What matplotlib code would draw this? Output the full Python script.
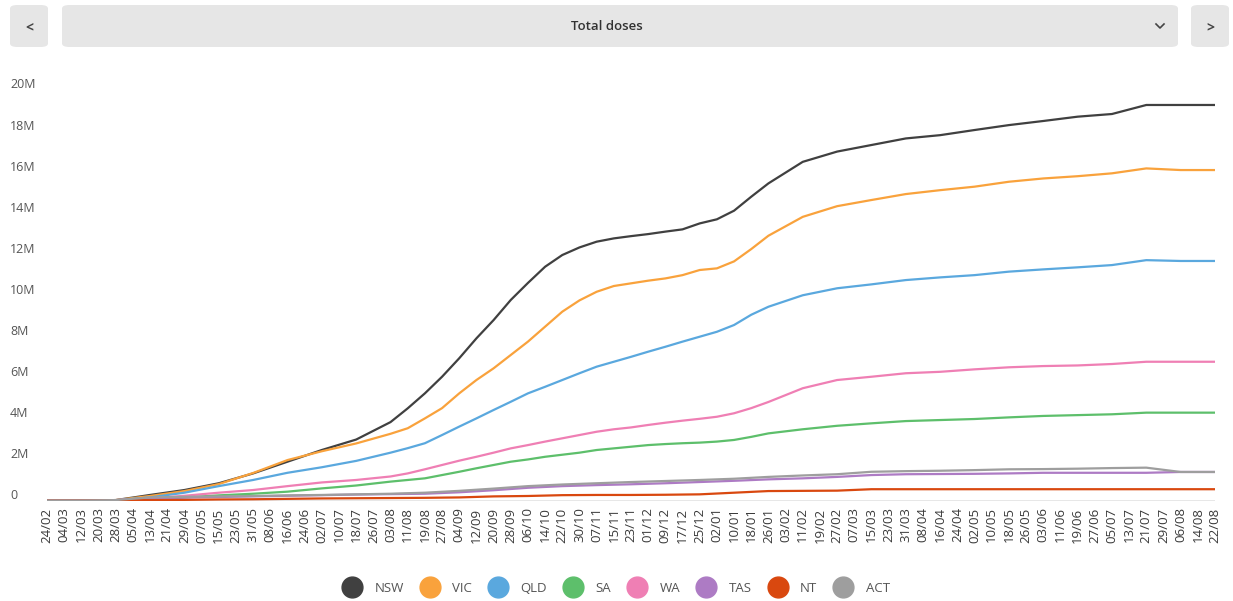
import matplotlib
matplotlib.use("Agg")
import matplotlib.pyplot as plt
from matplotlib.lines import Line2D
from matplotlib.patches import FancyBboxPatch
from matplotlib.transforms import ScaledTranslation
import pandas as pd

plt.rcParams['font.family'] = ['Open Sans', 'DejaVu Sans']

W, H = 1233, 601

tick_dates = pd.date_range("2021-02-24", "2022-08-22", freq="8D")
tick_labels = ["24/02", "04/03", "12/03", "20/03", "28/03", "05/04", "13/04", "21/04", "29/04",
               "07/05", "15/05", "23/05", "31/05", "08/06", "16/06", "24/06", "02/07", "10/07",
               "18/07", "26/07", "03/08", "11/08", "19/08", "27/08", "04/09", "12/09", "20/09",
               "28/09", "06/10", "14/10", "22/10", "30/10", "07/11", "15/11", "23/11", "01/12",
               "09/12", "17/12", "25/12", "02/01", "10/01", "18/01", "26/01", "03/02", "11/02",
               "19/02", "27/02", "07/03", "15/03", "23/03", "31/03", "08/04", "16/04", "24/04",
               "02/05", "10/05", "18/05", "26/05", "03/06", "11/06", "19/06", "27/06", "05/07",
               "13/07", "21/07", "29/07", "06/08", "14/08", "22/08"]
y_ticks = [0, 2, 4, 6, 8, 10, 12, 14, 16, 18, 20]
y_labels = ["0", "2M", "4M", "6M", "8M", "10M", "12M", "14M", "16M", "18M", "20M"]

# read points: every 16 days, denser (8 days) through the steep part Aug 2021 - Jan 2022
fine_idx = list(range(0, 20, 2)) + list(range(20, 43)) + list(range(44, 69, 2))
coarse_idx = list(range(0, 69, 2))
dates_fine = tick_dates[fine_idx]
dates_coarse = tick_dates[coarse_idx]

# millions of doses
nsw = [0, 0, 0.02, 0.27, 0.51, 0.84, 1.32, 1.89, 2.46, 2.97,
       3.82, 4.49, 5.22, 6.03, 6.93, 7.9, 8.79, 9.77, 10.6, 11.39, 11.96, 12.33, 12.61, 12.77,
       12.88, 12.98, 13.1, 13.21, 13.5, 13.7, 14.12, 14.8, 15.45,
       16.5, 17.0, 17.32, 17.64, 17.8, 18.05, 18.29, 18.49, 18.7, 18.83, 19.27, 19.27, 19.27]
vic = [0, 0, 0.02, 0.22, 0.46, 0.8, 1.34, 1.97, 2.4, 2.78,
       3.25, 3.52, 4.0, 4.5, 5.22, 5.87, 6.44, 7.09, 7.74, 8.47, 9.2, 9.75, 10.17, 10.45,
       10.58, 10.71, 10.82, 10.98, 11.23, 11.31, 11.65, 12.25, 12.9,
       13.82, 14.34, 14.64, 14.93, 15.12, 15.29, 15.53, 15.69, 15.8, 15.94, 16.18, 16.1, 16.1]
qld = [0, 0, 0.01, 0.15, 0.38, 0.7, 1.0, 1.35, 1.62, 1.93,
       2.33, 2.55, 2.79, 3.19, 3.6, 4.0, 4.41, 4.81, 5.22, 5.54, 5.87, 6.2, 6.52, 6.76,
       7.0, 7.25, 7.49, 7.74, 7.98, 8.22, 8.55, 9.05, 9.44,
       10.0, 10.34, 10.53, 10.74, 10.87, 10.98, 11.15, 11.26, 11.36, 11.47, 11.71, 11.67, 11.67]
sa = [0, 0, 0.01, 0.05, 0.15, 0.25, 0.33, 0.43, 0.59, 0.73,
      0.92, 1.0, 1.08, 1.24, 1.4, 1.57, 1.73, 1.89, 2.0, 2.13, 2.23, 2.33, 2.46, 2.54,
      2.62, 2.7, 2.75, 2.79, 2.82, 2.87, 2.95, 3.1, 3.27,
      3.47, 3.64, 3.76, 3.87, 3.92, 3.97, 4.05, 4.12, 4.16, 4.2, 4.28, 4.28, 4.28]
wa = [0, 0, 0.01, 0.1, 0.23, 0.38, 0.51, 0.7, 0.88, 1.0,
      1.17, 1.32, 1.52, 1.73, 1.94, 2.13, 2.33, 2.54, 2.7, 2.87, 3.03, 3.19, 3.35, 3.47,
      3.56, 3.68, 3.79, 3.89, 3.98, 4.08, 4.25, 4.5, 4.8,
      5.47, 5.87, 6.03, 6.2, 6.27, 6.39, 6.49, 6.55, 6.58, 6.65, 6.76, 6.76, 6.76]
tas = [0, 0, 0.02, 0.1, 0.14, 0.17, 0.2, 0.23, 0.26, 0.29, 0.31, 0.33, 0.4, 0.5, 0.62, 0.7, 0.75,
       0.79, 0.84, 0.9, 0.96, 1.03, 1.08, 1.15, 1.24, 1.28, 1.29, 1.3, 1.32, 1.35, 1.35, 1.35, 1.35,
       1.39, 1.39]
nt = [0, 0, 0.01, 0.02, 0.03, 0.05, 0.06, 0.08, 0.1, 0.11, 0.12, 0.13, 0.15, 0.2, 0.22, 0.26, 0.27,
      0.27, 0.28, 0.3, 0.38, 0.46, 0.47, 0.48, 0.55, 0.55, 0.55, 0.55, 0.55, 0.55, 0.55, 0.55, 0.55,
      0.55, 0.55]
act = [0, 0, 0.02, 0.15, 0.18, 0.2, 0.22, 0.25, 0.27, 0.3, 0.33, 0.38, 0.47, 0.58, 0.7, 0.78, 0.84,
       0.9, 0.95, 1.0, 1.06, 1.15, 1.22, 1.28, 1.4, 1.43, 1.45, 1.48, 1.52, 1.53, 1.55, 1.58, 1.6,
       1.39, 1.39]

states = ["NSW", "VIC", "QLD", "SA", "WA", "TAS", "NT", "ACT"]
series = [nsw, vic, qld, sa, wa, tas, nt, act]
colors = ["#404040", "#f9a23c", "#5aa8de", "#5dbf6b", "#ef7fb4", "#ad7bc4", "#d9480f", "#9e9e9e"]

fig = plt.figure(figsize=(W / 100, H / 100), dpi=100)
ax = fig.add_axes([47 / W, (H - 500.5) / H, 1168 / W, 410.5 / H])

ax.axhline(0, color="#e3e3e3", lw=1.2, zorder=0)
for name, vals, c in zip(states, series, colors):
    d = dates_fine if len(vals) == len(dates_fine) else dates_coarse
    ax.plot(d, vals, color=c, lw=1.6, label=name, solid_joinstyle="round")

ax.set_xlim(tick_dates[0], tick_dates[-1])
ax.set_ylim(0, 20)
for s in ax.spines.values():
    s.set_visible(False)

ax.set_xticks(tick_dates)
ax.set_xticklabels(tick_labels, rotation=90, fontsize=9.5, color="#3a3a3a")
ax.set_yticks(y_ticks)
ax.set_yticklabels(y_labels, fontsize=9, color="#555555", ha="left")
ax.tick_params(axis="x", length=0, pad=5)
ax.tick_params(axis="y", length=0, pad=26.6)
for lab in ax.get_yticklabels():
    lab.set_transform(lab.get_transform() + ScaledTranslation(0, 6.5 / 100, fig.dpi_scale_trans))

# legend
handles = [Line2D([], [], marker="o", linestyle="none", markersize=15, color=c) for c in colors]
fig.legend(handles, states, loc="center", bbox_to_anchor=(616 / W, 1 - 588 / H), ncol=8,
           frameon=False, fontsize=9.5, handlelength=1.5, handletextpad=0.92, columnspacing=1.25,
           labelcolor="#555555")

# top navigation bar
def box(x0, y0, x1, y1):
    p = FancyBboxPatch((x0 / W, 1 - y1 / H), (x1 - x0) / W, (y1 - y0) / H,
                       boxstyle="round,pad=0,rounding_size=0.006", transform=fig.transFigure,
                       facecolor="#e6e6e6", edgecolor="none")
    fig.patches.append(p)

box(10, 5, 48, 47)
box(62, 5, 1178, 47)
box(1191, 5, 1229, 47)
fig.text(29 / W, 1 - 27 / H, "<", ha="center", va="center", fontsize=10, color="#444444",
         fontweight="bold")
fig.text(1210 / W, 1 - 27 / H, ">", ha="center", va="center", fontsize=10, color="#444444",
         fontweight="bold")
fig.text(607 / W, 1 - 26 / H, "Total doses", ha="center", va="center", fontsize=9.5,
         color="#333333", fontweight="semibold")
fig.lines.append(Line2D([1156 / W, 1160 / W, 1164 / W], [1 - 24 / H, 1 - 28 / H, 1 - 24 / H],
                        transform=fig.transFigure, color="#444444", lw=1.2))

fig.savefig("out.png", dpi=100)
